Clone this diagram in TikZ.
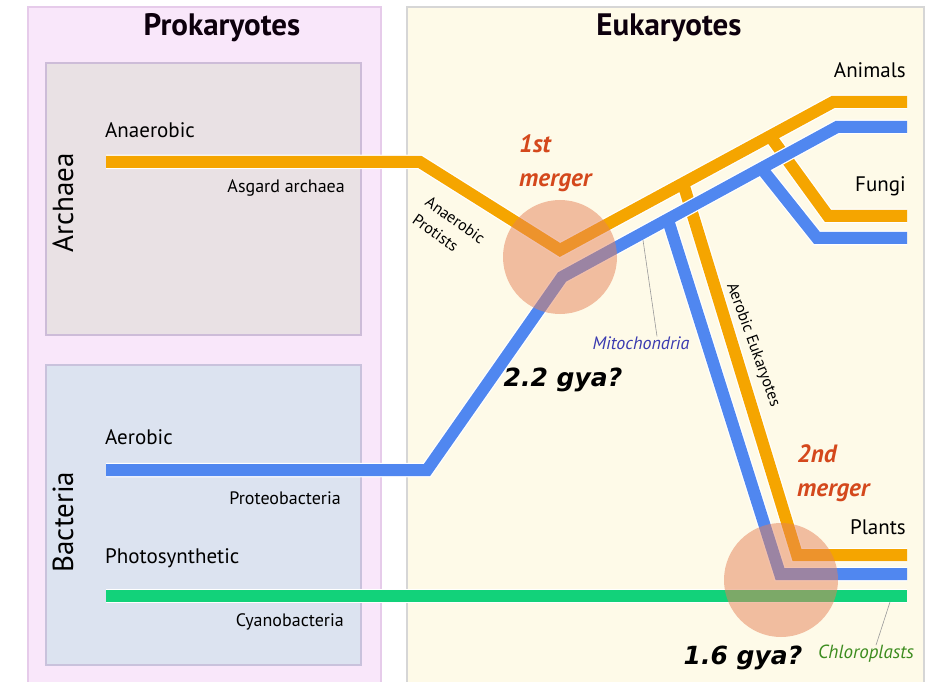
\documentclass[tikz,border=0pt]{standalone}
\usepackage{fontspec}
\setmainfont{PT Sans}
\newfontfamily\gyafont{DejaVu Sans}
\usetikzlibrary{positioning}

\definecolor{prokfill}{HTML}{F9E7FA}
\definecolor{prokline}{HTML}{E6CBEA}
\definecolor{eukfill}{HTML}{FEFAE8}
\definecolor{eukline}{HTML}{D6D6D6}
\definecolor{archfill}{HTML}{E9E1E4}
\definecolor{archline}{HTML}{CDBCD8}
\definecolor{bactfill}{HTML}{DCE3F0}
\definecolor{bactline}{HTML}{C9C2DC}
\definecolor{orangeline}{HTML}{F5A500}
\definecolor{blueline}{HTML}{5087F0}
\definecolor{greenline}{HTML}{12D27A}
\definecolor{mergefill}{HTML}{E68258}
\definecolor{mergetext}{HTML}{D4481C}
\definecolor{mitotext}{HTML}{3A3AB0}
\definecolor{chlorotext}{HTML}{3C8C1E}

\newcommand{\textsz}[1]{\fontsize{#1}{#1}\selectfont}

\begin{document}
\begin{tikzpicture}[x=1pt, y=-1pt, line join=miter,
    panel/.style     = {draw=#1, line width=1.5pt},
    lineage/.style   = {draw=#1, line width=12pt, preaction={draw=white, line width=14.5pt}},
    merger/.style    = {fill=mergefill, fill opacity=0.5},
    leaderline/.style= {draw=gray!80, line width=0.6pt},
    title/.style     = {inner sep=0pt, font=\textsz{31}\bfseries, text=black!90!violet},
    kingdom/.style   = {inner sep=0pt, font=\textsz{29}},
    txt/.style       = {inner sep=0pt, font=\textsz{21}},
    smalltxt/.style  = {inner sep=0pt, font=\textsz{18}},
    tinytxt/.style   = {inner sep=0pt, font=\textsz{16}},
    mergetxt/.style  = {inner sep=0pt, anchor=west, align=left, text=mergetext,
                        font={\fontsize{25}{34}\selectfont\bfseries\itshape}},
    gya/.style       = {inner sep=0pt, font=\gyafont\textsz{25}\bfseries\itshape}]

    \useasboundingbox (0,0) rectangle (938,682);

    % Panels
    \draw [panel=prokline, fill=prokfill]   (28,7)   rectangle (381,700);
    \draw [panel=eukline,  fill=eukfill]    (407,7)  rectangle (924,700);
    \draw [panel=archline, fill=archfill]   (46,63)  rectangle (361,335);
    \draw [panel=bactline, fill=bactfill]   (46,365) rectangle (361,665);

    % Bend points {o = orange, b = blue, g = green}
    \coordinate (o0) at (106,162);  \coordinate (o1) at (420,162);
    \coordinate (o2) at (560,250);  \coordinate (o3) at (833,102);
    \coordinate (o4) at (907,102);
    \coordinate (b0) at (106,470);  \coordinate (b1) at (427,470);
    \coordinate (b2) at (562,277);  \coordinate (b3) at (837,127);
    \coordinate (b4) at (907,127);
    \coordinate (of0) at (770,136); \coordinate (of1) at (828,216); \coordinate (of2) at (907,216);
    \coordinate (bf0) at (762,169); \coordinate (bf1) at (817,238); \coordinate (bf2) at (907,238);
    \coordinate (oa0) at (683,183); \coordinate (oa1) at (797,555); \coordinate (oa2) at (907,555);
    \coordinate (ba0) at (668,220); \coordinate (ba1) at (780,574); \coordinate (ba2) at (907,574);
    \coordinate (g0) at (106,596);  \coordinate (g1) at (907,596);
    \coordinate (m1) at (560,257);  \coordinate (m2) at (781,580);
    \coordinate (mitopt) at (643,240);
    \coordinate (chlpt)  at (890,602);

    % Lineages
    \path [lineage=orangeline]  (of0) -- (of1) -- (of2)
                                (oa0) -- (oa1) -- (oa2)
                                (o0) -- (o1) -- (o2) -- (o3) -- (o4);
    \path [lineage=blueline]    (bf0) -- (bf1) -- (bf2)
                                (ba0) -- (ba1) -- (ba2)
                                (b0) -- (b1) -- (b2) -- (b3) -- (b4);
    \path [lineage=greenline]   (g0) -- (g1);

    % Mergers
    \fill [merger]  (m1) circle (57pt);
    \fill [merger]  (m2) circle (57pt);

    % Labels
    \node [title]                 (prok)     at (222,28)  {Prokaryotes};
    \node [title]                 (euk)      at (669,28)  {Eukaryotes};
    \node [kingdom, rotate=90]    (arch)     at (63,203)  {Archaea};
    \node [kingdom, rotate=90]    (bact)     at (63,522)  {Bacteria};
    \node [txt, anchor=west]      (anaer)    at (105,130) {Anaerobic};
    \node [smalltxt, anchor=east] (asgard)   at (345,188) {Asgard archaea};
    \node [txt, anchor=west]      (aer)      at (105,437) {Aerobic};
    \node [smalltxt, anchor=east] (proteo)   at (341,498) {Proteobacteria};
    \node [txt, anchor=west]      (photo)    at (105,558) {Photosynthetic};
    \node [smalltxt, anchor=east] (cyano)    at (344,622) {Cyanobacteria};
    \node [txt, anchor=east]      (animals)  at (906,70)  {Animals};
    \node [txt, anchor=east]      (fungi)    at (906,186) {Fungi};
    \node [txt, anchor=east]      (plants)   at (906,527) {Plants};
    \node [mergetxt]              (first)    at (519,163) {1st\\merger};
    \node [mergetxt]              (second)   at (797,473) {2nd\\merger};
    \node [tinytxt, rotate=-35, align=left, font={\fontsize{16}{22}\selectfont}]
                                  (protists) at (449,229) {Anaerobic\\Protists};
    \node [tinytxt, rotate=-70]   (aereuk)   at (753,345) {Aerobic Eukaryotes};
    \node [tinytxt, font=\textsz{18}\itshape, text=mitotext]    (mito)   at (641,343) {Mitochondria};
    \node [smalltxt, font=\textsz{19}\itshape, text=chlorotext] (chloro) at (866,654) {Chloroplasts};
    \node [gya]                   (gya1)     at (563,380) {2.2 gya?};
    \node [gya]                   (gya2)     at (743,658) {1.6 gya?};

    % Leaders
    \draw [leaderline]  (mitopt) -- ([xshift=16pt]mito.north);
    \draw [leaderline]  (chlpt)  -- ([xshift=10pt]chloro.north);

\end{tikzpicture}
\end{document}
